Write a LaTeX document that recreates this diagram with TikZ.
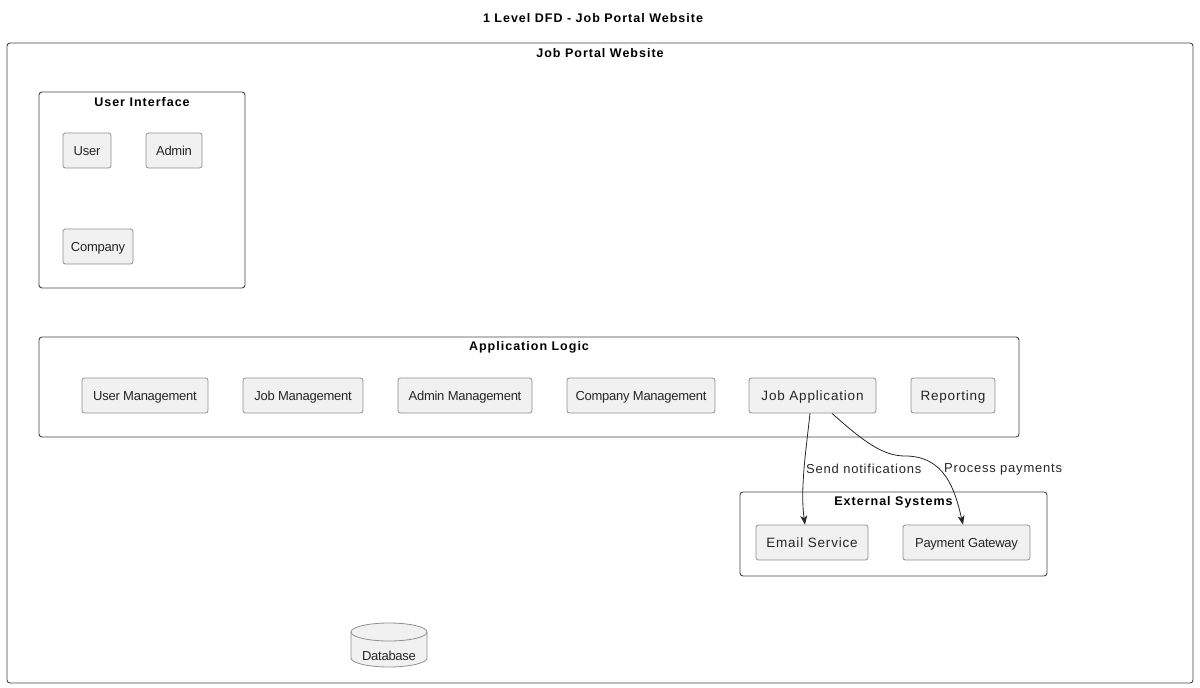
\documentclass[tikz,border=0pt]{standalone}
\usepackage{fontspec}
\setmainfont{Liberation Sans}
\newfontfamily\wideface[LetterSpace=6]{Liberation Sans}
\newfontfamily\narrowface[LetterSpace=-2]{Liberation Sans}
\newfontfamily\titleface[LetterSpace=8]{Liberation Sans}
\usetikzlibrary{arrows.meta}
\definecolor{boxfill}{HTML}{F1F1F1}
\definecolor{boxline}{HTML}{8F8F8F}
\definecolor{frameline}{HTML}{444444}
\tikzset{
  box/.style={draw=boxline, fill=boxfill, rounded corners=2.5pt, line width=0.8pt,
    minimum height=35pt, inner sep=0pt, text height=9.6pt, text depth=0.4pt,
    font=\fontsize{13}{15}\narrowface, text=black!85},
  dbox/.style={box, text height=10pt, text depth=0.3pt, font=\fontsize{13.5}{15}\wideface},
  frame/.style={draw=frameline, rounded corners=3pt, line width=0.9pt},
  gtitle/.style={font=\fontsize{12.5}{14}\titleface\bfseries, inner sep=0pt},
  arr/.style={draw=black!85, line width=0.8pt, -{Stealth[length=9pt,width=7pt,inset=2.5pt]}},
  elabel/.style={font=\fontsize{13}{15}\wideface, text=black!85, inner sep=0pt, anchor=west},
  dbshape/.style={draw=boxline, fill=boxfill, line width=0.8pt},
}
\begin{document}
\begin{tikzpicture}[x=1pt,y=-1pt]
\useasboundingbox (0,0) rectangle (1200,688);
\node[gtitle] (title) at (593,18) {1 Level DFD - Job Portal Website};
% outer frame
\node[frame, minimum width=1186pt, minimum height=640pt, inner sep=0pt] (outer) at (600,363) {};
\node[gtitle] (outert) at (600,53) {Job Portal Website};
% User Interface
\node[frame, minimum width=206pt, minimum height=196pt, inner sep=0pt] (ui) at (142,190) {};
\node[gtitle] (uit) at (142,102) {User Interface};
\node[box, minimum width=48pt] (user) at (87,150.5) {User};
\node[box, minimum width=56pt] (admin) at (174,150.5) {Admin};
\node[box, minimum width=70pt] (company) at (98,246.5) {Company};
% Application Logic
\node[frame, minimum width=980pt, minimum height=100pt, inner sep=0pt] (al) at (529,387) {};
\node[gtitle] (alt) at (529,347) {Application Logic};
\node[box, minimum width=126pt] (um) at (145,395.5) {User Management};
\node[box, minimum width=120pt] (jm) at (303,395.5) {Job Management};
\node[box, minimum width=134pt] (am) at (465,395.5) {Admin Management};
\node[box, minimum width=148pt] (cm) at (641,395.5) {Company Management};
\node[dbox, minimum width=127pt] (japp) at (812.5,395.5) {Job Application};
\node[dbox, minimum width=84pt] (rep) at (953,395.5) {Reporting};
% External Systems
\node[frame, minimum width=307pt, minimum height=84pt, inner sep=0pt] (ext) at (893.5,534) {};
\node[gtitle] (extt) at (893.5,502) {External Systems};
\node[dbox, minimum width=112pt] (email) at (812,542.5) {Email Service};
\node[box, minimum width=127pt] (pay) at (966.5,542.5) {Payment Gateway};
% Database (cylinder drawn directly)
\path[dbshape] (351,632) -- (351,658) arc[start angle=180, end angle=0, x radius=38, y radius=9]
  -- (427,632) arc[start angle=0, end angle=-180, x radius=38, y radius=9] -- cycle;
\draw[draw=boxline, line width=0.8pt] (351,632) arc[start angle=180, end angle=0, x radius=38, y radius=9];
\node[inner sep=0pt, text height=9.6pt, text depth=0.4pt, font=\fontsize{13}{15}\narrowface,
  text=black!85] (db) at (389,655.5) {Database};
% connectors
\coordinate (bend) at (905,456);
\draw[arr] ([xshift=-2.5pt]japp.south) .. controls (806,450) and (800,490) .. ([xshift=-7pt]email.north);
\draw[arr] ([xshift=19.5pt]japp.south) .. controls (862,440) and (882,456) .. (bend)
  .. controls (945,456) and (955,490) .. ([xshift=-3.5pt]pay.north);
\node[elabel] (l1) at (806,469) {Send notifications};
\node[elabel] (l2) at (944,469) {Process payments};
\end{tikzpicture}
\end{document}
